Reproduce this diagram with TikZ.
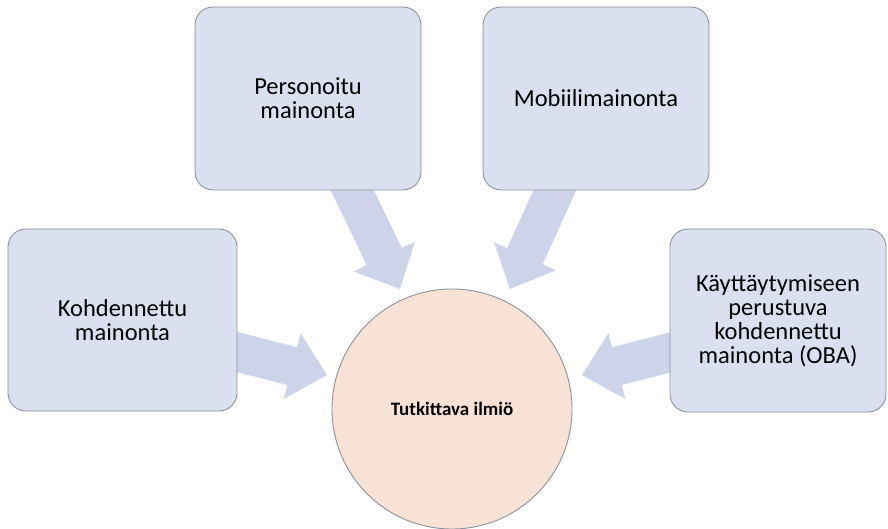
\documentclass[tikz,border=0pt]{standalone}
\usepackage{fontspec}
\setmainfont{Carlito}
\usetikzlibrary{calc,backgrounds}
\definecolor{boxfill}{RGB}{218,224,239}
\definecolor{boxline}{RGB}{140,145,155}
\definecolor{arrowfill}{RGB}{205,212,234}
\definecolor{circfill}{RGB}{248,226,213}
\newcommand\fatarrow[2]{%
  \coordinate (fa-b) at ($(#2)!36pt!(#1)$);
  \fill[arrowfill] ($(#1)!19.5pt!90:(#2)$) -- ($(fa-b)!19.5pt!90:(#2)$)
    -- ($(fa-b)!34pt!90:(#2)$) -- (#2) -- ($(fa-b)!34pt!-90:(#2)$)
    -- ($(fa-b)!19.5pt!-90:(#2)$) -- ($(#1)!19.5pt!-90:(#2)$) -- cycle;}
\begin{document}
\begin{tikzpicture}[x=1pt,y=-1pt,
  ibox/.style={draw=boxline, line width=0.9pt, fill=boxfill, rounded corners=18pt,
    align=center, font=\fontsize{24.5}{24}\selectfont, inner sep=4pt},
  hub/.style={circle, draw=boxline, line width=0.9pt, fill=circfill,
    minimum size=240pt, inner sep=0pt, font=\bfseries\fontsize{19}{22}\selectfont}]
\useasboundingbox (0,0) rectangle (888,529);
\node[ibox, minimum width=229pt, minimum height=182pt] (A) at (122.5,320) {Kohdennettu\\mainonta};
\node[ibox, minimum width=226pt, minimum height=183pt] (B) at (308,98.5) {Personoitu\\mainonta};
\node[ibox, minimum width=226pt, minimum height=183pt] (C) at (596,98.5) {Mobiilimainonta};
\node[ibox, minimum width=216pt, minimum height=183pt] (D) at (778,320.5) {Käyttäytymiseen\\perustuva\\kohdennettu\\mainonta (OBA)};
\node[hub] (H) at (452,409) {Tutkittava ilmiö};
\coordinate (sA) at (222.5,348.3);
\coordinate (tA) at (327,375);
\coordinate (sB) at (345.5,176.5);
\coordinate (tB) at (400,289);
\coordinate (sC) at (561.2,176.3);
\coordinate (tC) at (510,289);
\coordinate (sD) at (684.5,348.8);
\coordinate (tD) at (582,375);
\begin{scope}[on background layer]
\fatarrow{sA}{tA}
\fatarrow{sB}{tB}
\fatarrow{sC}{tC}
\fatarrow{sD}{tD}
\end{scope}
\end{tikzpicture}
\end{document}
